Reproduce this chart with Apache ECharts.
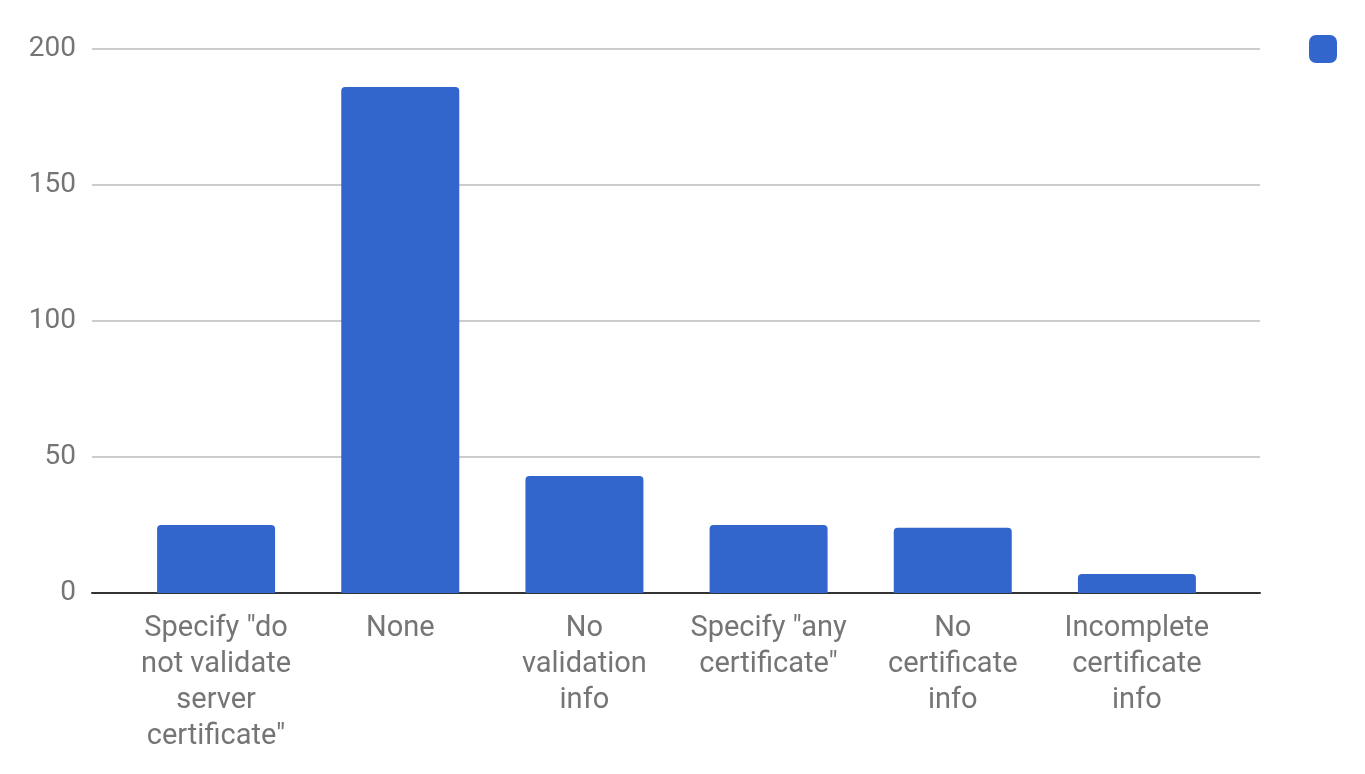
<!DOCTYPE html>
<html>
<head>
<meta charset="utf-8">
<script src="https://cdn.jsdelivr.net/npm/echarts@6/dist/echarts.min.js"></script>
<style>
  html, body { margin: 0; padding: 0; background: #fff; }
  #main { width: 1365px; height: 774px; }
</style>
</head>
<body>
<div id="main"></div>
<script>
var categories = [
  'Specify "do\nnot validate\nserver\ncertificate"',
  'None',
  'No\nvalidation\ninfo',
  'Specify "any\ncertificate"',
  'No\ncertificate\ninfo',
  'Incomplete\ncertificate\ninfo'
];
var values = [25, 186, 43, 25, 24, 7];
var yTicks = [0, 50, 100, 150, 200];

var chart = echarts.init(document.getElementById('main'));
var font = 'Roboto, "Noto Sans", sans-serif';

var option = {
  animation: false,
  legend: {
    data: [' '],
    left: 1304,
    top: 30,
    icon: 'roundRect',
    itemWidth: 28,
    itemHeight: 28,
    textStyle: { fontSize: 1, color: '#fff' }
  },
  grid: [
    // wide grid: gridlines and y labels
    { left: 92, right: 105, top: 49, bottom: 181 },
    // inner grid: bars
    { left: 124, right: 136, top: 49, bottom: 181 }
  ],
  xAxis: [
    {
      gridIndex: 0,
      type: 'value',
      min: 0,
      max: 1,
      axisLabel: { show: false },
      axisTick: { show: false },
      splitLine: { show: false },
      axisLine: { show: true, lineStyle: { color: '#333', width: 2 } }
    },
    {
      gridIndex: 1,
      type: 'category',
      data: categories,
      axisLine: { show: false },
      axisTick: { show: false },
      axisLabel: {
        interval: 0,
        margin: 18,
        fontFamily: font,
        fontSize: 29,
        lineHeight: 36,
        color: '#757575'
      }
    }
  ],
  yAxis: [
    {
      gridIndex: 0,
      type: 'value',
      min: yTicks[0],
      max: yTicks[yTicks.length - 1],
      interval: 50,
      axisLine: { show: false },
      axisTick: { show: false },
      axisLabel: {
        margin: 16,
        fontFamily: font,
        fontSize: 28,
        color: '#757575',
        padding: [3, 0, 0, 0]
      },
      splitLine: { lineStyle: { color: '#cccccc', width: 2 } }
    },
    {
      gridIndex: 1,
      type: 'value',
      min: yTicks[0],
      max: yTicks[yTicks.length - 1],
      interval: 50,
      show: false,
      splitLine: { show: false }
    }
  ],
  series: [
    {
      name: ' ',
      type: 'bar',
      xAxisIndex: 1,
      yAxisIndex: 1,
      data: values,
      barWidth: 118,
      itemStyle: { color: '#3366cc', borderRadius: [4, 4, 0, 0] }
    }
  ]
};

chart.setOption(option);
</script>
</body>
</html>
